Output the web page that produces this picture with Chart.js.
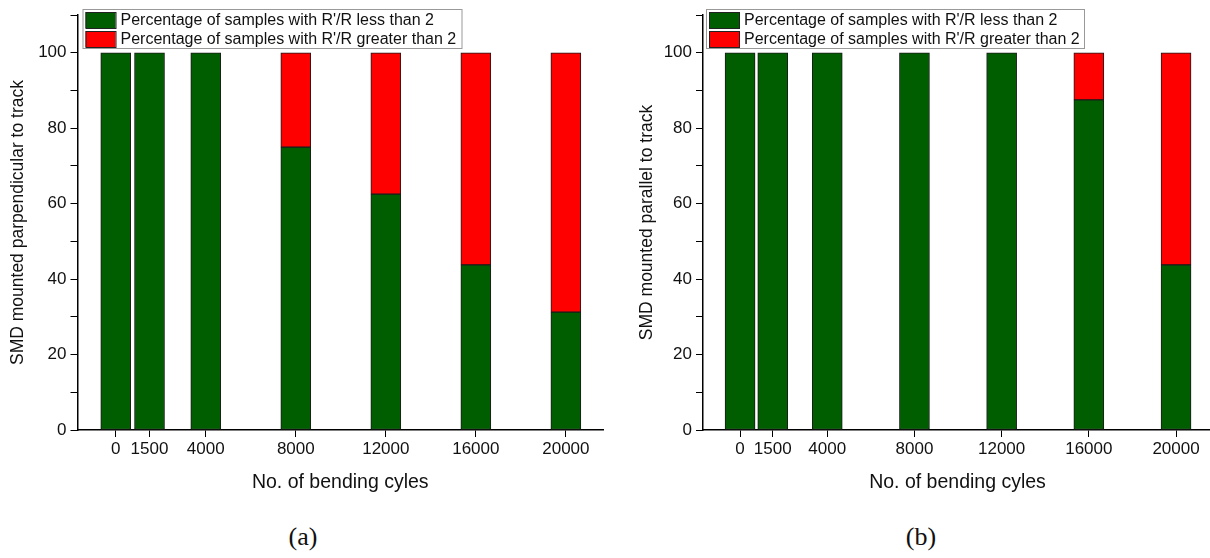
<!DOCTYPE html>
<html>
<head>
<meta charset="utf-8">
<script src="https://cdn.jsdelivr.net/npm/chart.js@4/dist/chart.umd.min.js"></script>
<style>
  html, body { margin: 0; padding: 0; background: #fff; overflow: hidden; width: 1210px; height: 558px; }
  .panel { position: absolute; top: 0; height: 500px; }
  #wrapA { left: 0; width: 610px; }
  #wrapB { left: 620px; width: 600px; }
  .cap { position: absolute; top: 522px; font-family: "Liberation Serif", "Times New Roman", serif; font-size: 26px; color: #111; transform: translateX(-50%); }
</style>
</head>
<body>
<div class="panel" id="wrapA"><canvas id="chartA"></canvas></div>
<div class="panel" id="wrapB"><canvas id="chartB"></canvas></div>
<div class="cap" style="left:303px">(a)</div>
<div class="cap" style="left:921px">(b)</div>
<script>
// bending cycles (x positions + tick labels)
const cycles = [0, 1500, 4000, 8000, 12000, 16000, 20000];

// (a) SMD perpendicular to track
const perpLess = [100, 100, 100, 75, 62.5, 43.75, 31.25];
const perpMore = [0, 0, 0, 25, 37.5, 56.25, 68.75];

// (b) SMD parallel to track
const paraLess = [100, 100, 100, 100, 100, 87.5, 43.75];
const paraMore = [0, 0, 0, 0, 0, 12.5, 56.25];

const labelLess = "Percentage of samples with R'/R less than 2";
const labelMore = "Percentage of samples with R'/R greater than 2";

Chart.defaults.font.family = "'Liberation Sans', Arial, sans-serif";
Chart.defaults.color = "#111";

// legend box drawn inside the plot, top left
const boxLegend = {
  id: "boxLegend",
  afterDraw(chart, args, opts) {
    const ctx = chart.ctx;
    const area = chart.chartArea;
    const x = area.left + opts.dx, y = area.top - 6;
    const w = opts.width, h = 39;
    ctx.save();
    ctx.fillStyle = "#fff";
    ctx.fillRect(x, y, w, h);
    ctx.strokeStyle = "#999";
    ctx.lineWidth = 1;
    ctx.strokeRect(x + 0.5, y + 0.5, w, h);
    ctx.font = "16px 'Liberation Sans', Arial, sans-serif";
    ctx.textBaseline = "middle";
    chart.data.datasets.forEach((ds, i) => {
      const ry = y + 3 + i * 19;
      ctx.fillStyle = ds.backgroundColor;
      ctx.fillRect(x + 3, ry, 30, 16);
      ctx.strokeStyle = "#222";
      ctx.strokeRect(x + 3.5, ry + 0.5, 30, 16);
      ctx.fillStyle = "#111";
      ctx.fillText(ds.label, x + 38, ry + 9);
    });
    ctx.restore();
  }
};

function makeChart(id, less, more, yTitle, yWidth, padRight, legendDx, legendW, titlePad) {
  const toPts = arr => arr.map((v, i) => ({ x: cycles[i], y: v }));
  return new Chart(document.getElementById(id), {
    type: "bar",
    data: {
      datasets: [
        { label: labelLess, data: toPts(less), backgroundColor: "#005e00", borderColor: "#1a1a1a", borderWidth: 1, borderSkipped: false, barThickness: 30 },
        { label: labelMore, data: toPts(more), backgroundColor: "#ff0000", borderColor: "#1a1a1a", borderWidth: 1, borderSkipped: false, barThickness: 30 }
      ]
    },
    options: {
      responsive: true,
      maintainAspectRatio: false,
      animation: false,
      layout: { padding: { top: 15, right: padRight, left: 0, bottom: 0 } },
      plugins: {
        legend: { display: false },
        tooltip: { enabled: false },
        boxLegend: { dx: legendDx, width: legendW }
      },
      scales: {
        x: {
          type: "linear",
          stacked: true,
          offset: false,
          min: -1700,
          max: 21650,
          afterBuildTicks: s => { s.ticks = cycles.map(v => ({ value: v })); },
          afterFit: s => { s.height = 70; },
          ticks: { font: { size: 17 }, color: "#111", padding: 2, maxRotation: 0, autoSkip: false, callback: v => String(v) },
          grid: { display: true, offset: false, drawOnChartArea: false, drawTicks: true, tickLength: 7, color: "#000", lineWidth: 1 },
          border: { display: true, color: "#000", width: 1.5 },
          title: { display: true, text: "No. of bending cyles", font: { size: 19.5 }, color: "#111", padding: { top: 2, bottom: 6 } }
        },
        y: {
          stacked: true,
          min: 0,
          max: 110,
          afterFit: s => { s.width = yWidth; },
          ticks: { stepSize: 10, font: { size: 17 }, color: "#111", padding: 4, callback: v => (v % 20 === 0 ? v : "") },
          grid: { display: true, drawOnChartArea: false, drawTicks: true, tickLength: 7, color: "#000", lineWidth: 1 },
          border: { display: true, color: "#000", width: 1.5 },
          title: { display: true, text: yTitle, font: { size: 17.5 }, color: "#111", padding: { top: titlePad, bottom: 4 } }
        }
      }
    },
    plugins: [boxLegend]
  });
}

makeChart("chartA", perpLess, perpMore, "SMD mounted parpendicular to track", 77.5, 7, 5, 379, 8);
makeChart("chartB", paraLess, paraMore, "SMD mounted parallel to track", 83, 8, 3, 378, 17);
</script>
</body>
</html>
